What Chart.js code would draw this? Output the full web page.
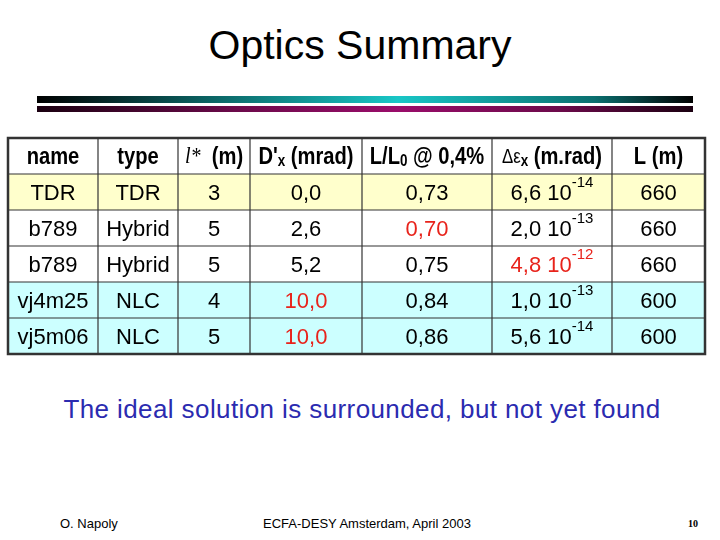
<!DOCTYPE html>
<html><head><meta charset="utf-8">
<script src="https://cdn.jsdelivr.net/npm/chart.js@4"></script>
<style>
body{margin:0;width:720px;height:540px;background:#fff;position:relative;overflow:hidden;font-family:Arial,"Liberation Sans",sans-serif}
.t{position:absolute;white-space:nowrap}
#wrap{position:absolute;left:0;top:0;width:720px;height:540px}
</style></head><body>
<div class="t" style="left:0;width:720px;text-align:center;top:22px;font-size:41px">Optics Summary</div>
<div style="position:absolute;left:37px;top:96px;width:656px;height:7px;background:linear-gradient(90deg,#000 0%,#0a5f5f 25%,#19c6c6 55%,#0a6f6f 85%,#000 100%)"></div>
<div style="position:absolute;left:37px;top:106px;width:656px;height:6px;background:linear-gradient(90deg,#1a0010 0%,#6b0a4a 30%,#9a0d6a 55%,#6b0a4a 80%,#1a0010 100%)"></div>
<div class="t" style="left:0;width:724px;text-align:center;top:394px;font-size:26px;letter-spacing:0.4px;color:#2b2bb0">The ideal solution is surrounded, but not yet found</div>
<div class="t" style="left:60px;top:516px;font-size:13px">O. Napoly</div>
<div class="t" style="left:0;width:734px;text-align:center;top:516px;font-size:13px">ECFA-DESY Amsterdam, April 2003</div>
<div class="t" style="left:688px;top:518px;font-size:10px;font-weight:bold;font-family:'Liberation Serif',serif">10</div>
<div id="wrap"><canvas id="c" width="720" height="540"></canvas></div>
<script>
const rowNames=['TDR','b789','b789','vj4m25','vj5m06'];
const types=['TDR','Hybrid','Hybrid','NLC','NLC'];
const lstar=['3','5','5','4','5'];
const dpx=['0,0','2,6','5,2','10,0','10,0'];
const lumRatio=['0,73','0,70','0,75','0,84','0,86'];
const demitMant=['6,6','2,0','4,8','1,0','5,6'];
const demitExp=['-14','-13','-12','-13','-14'];
const lumLen=['660','660','660','600','600'];
const redCells=[[1,4],[2,5],[3,3],[4,3]];
const rowFill=['#ffffcc','#ffffff','#ffffff','#ccffff','#ccffff'];
const colEdges=[8,98,178,250,362,492,612,705];
const B='bold 24px Arial', R='22px Arial';
const header=[
 [{t:'name',f:B}],[{t:'type',f:B}],
 [{t:'l*',f:'italic 24px "Liberation Serif",serif'},{t:'  (m)',f:B}],
 [{t:"D'",f:B},{t:'x',f:'bold 16px Arial',dy:5},{t:' (mrad)',f:B}],
 [{t:'L/L',f:B},{t:'0',f:'bold 16px Arial',dy:5},{t:' @ 0,4%',f:B}],
 [{t:'Δε',f:'20px Arial'},{t:'x',f:'bold 16px Arial',dy:5},{t:' (m.rad)',f:B}],
 [{t:'L (m)',f:B}]
];
function segs(ctx,list,cx,cy,color,sx){
  sx=sx||1;
  let w=0;list.forEach(s=>{ctx.font=s.f;w+=ctx.measureText(s.t).width;});
  ctx.save();ctx.translate(cx,cy);ctx.scale(sx,1);
  let x=-w/2;ctx.fillStyle=color;ctx.textBaseline='middle';ctx.textAlign='left';
  list.forEach(s=>{ctx.font=s.f;ctx.fillText(s.t,x,(s.dy||0));x+=ctx.measureText(s.t).width;});
  ctx.restore();
}
const tablePlugin={id:'table',afterDraw(chart){
  const ctx=chart.ctx,y=chart.scales.y,x=chart.scales.x;
  const band=y.getPixelForValue(1)-y.getPixelForValue(0);
  const cols=colEdges.map(e=>x.getPixelForValue(e));
  const labels=chart.data.labels;
  ctx.save();
  labels.forEach((lab,i)=>{
    const cy=y.getPixelForValue(i),top=cy-band/2;
    ctx.fillStyle=i===0?'#ffffff':rowFill[i-1];
    ctx.fillRect(cols[0],top,cols[7]-cols[0],band);
    for(let c=0;c<7;c++){
      const cx=(cols[c]+cols[c+1])/2;
      if(i===0){segs(ctx,header[c],cx,cy+1,'#000',0.84);continue;}
      const r=i-1;
      const red=redCells.some(p=>p[0]===r&&p[1]===c)?'#e8231b':'#000';
      let list;
      if(c===5) list=[{t:demitMant[r]+' 10',f:R,dy:2},{t:demitExp[r],f:'15px Arial',dy:-9}];
      else list=[{t:[rowNames,types,lstar,dpx,lumRatio,null,lumLen][c][r],f:R,dy:2}];
      segs(ctx,list,cx,cy,red);
    }
  });
  ctx.strokeStyle='#333';ctx.lineWidth=1.2;
  const t0=y.getPixelForValue(0)-band/2,t1=y.getPixelForValue(labels.length-1)+band/2;
  labels.forEach((l,i)=>{const yy=y.getPixelForValue(i)-band/2;ctx.beginPath();ctx.moveTo(cols[0],yy);ctx.lineTo(cols[7],yy);ctx.stroke();});
  ctx.beginPath();ctx.moveTo(cols[0],t1);ctx.lineTo(cols[7],t1);ctx.stroke();
  cols.forEach(cx=>{ctx.beginPath();ctx.moveTo(cx,t0);ctx.lineTo(cx,t1);ctx.stroke();});
  ctx.lineWidth=2.5;ctx.strokeRect(cols[0],t0,cols[7]-cols[0],t1-t0);
  ctx.restore();
}};
new Chart(document.getElementById('c'),{
  type:'bar',
  data:{labels:['header',...rowNames.map((n,i)=>n+i)],datasets:[{data:[],backgroundColor:'transparent'}]},
  options:{responsive:false,animation:false,indexAxis:'y',
    layout:{padding:{left:0,right:0,top:138,bottom:186}},
    plugins:{legend:{display:false},tooltip:{enabled:false}},
    scales:{x:{type:'linear',min:0,max:720,display:false},y:{type:'category',display:false,offset:true}}},
  plugins:[tablePlugin]
});
</script></body></html>
